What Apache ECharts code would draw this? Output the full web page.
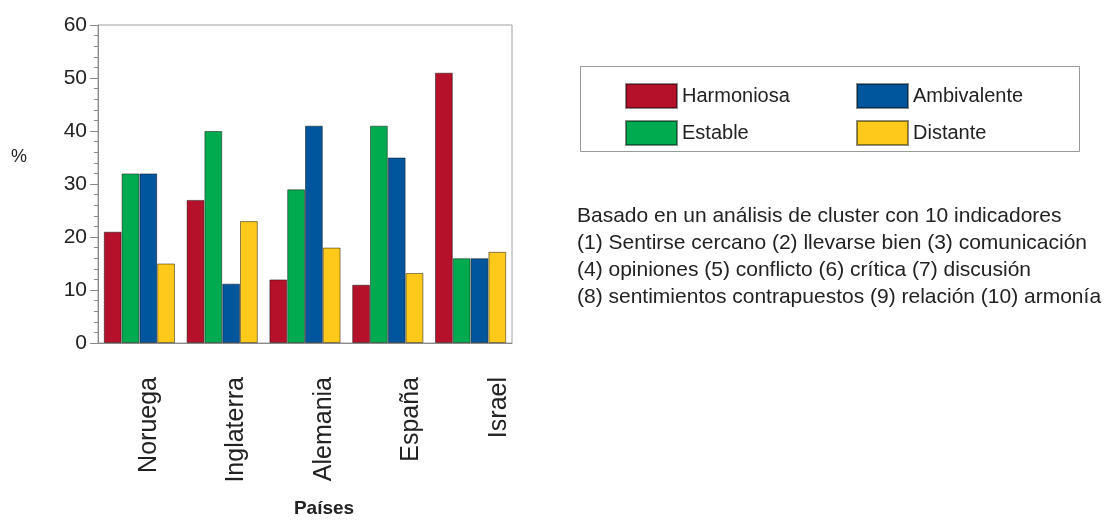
<!DOCTYPE html>
<html>
<head>
<meta charset="utf-8">
<script src="https://cdn.jsdelivr.net/npm/echarts@6/dist/echarts.min.js"></script>
<style>
  html, body { margin: 0; padding: 0; background: #fff; }
  #chart { width: 1113px; height: 520px; }
</style>
</head>
<body>
<div id="chart"></div>
<script>
// 数据
const paises = ['Noruega', 'Inglaterra', 'Alemania', 'España', 'Israel']
const harmoniosa = [21, 27, 12, 11, 51]
const estable = [32, 40, 29, 41, 16]
const ambivalente = [32, 11.2, 41, 35, 16]
const distante = [15, 23, 18, 13.2, 17.2]
const notaLineas = [
  'Basado en un análisis de cluster con 10 indicadores',
  '(1) Sentirse cercano (2) llevarse bien (3) comunicación',
  '(4) opiniones (5) conflicto (6) crítica (7) discusión',
  '(8) sentimientos contrapuestos (9) relación (10) armonía'
]

const FONT = '"Liberation Sans", Arial, sans-serif'
const gris = '#8a8a8a'

const serie = (name, data, color) => ({
  name,
  type: 'bar',
  data,
  barGap: '0%',
  barCategoryGap: '14%',
  itemStyle: { color, borderColor: 'rgba(0,0,0,0.45)', borderWidth: 1 }
})

const chart = echarts.init(document.getElementById('chart'))
chart.setOption({
  animation: false,
  textStyle: { fontFamily: FONT },
  grid: [
    {
      left: 98, right: 601, top: 25, bottom: 177,
      containLabel: false, outerBoundsMode: 'none',
      show: true, borderColor: '#a0a0a0', borderWidth: 1
    },
    // 标签在原图中略向右偏移，用第二个 grid 放置
    {
      left: 105, right: 570, top: 25, bottom: 177,
      containLabel: false, outerBoundsMode: 'none'
    }
  ],
  legend: [
    {
      data: ['Harmoniosa', 'Estable'],
      orient: 'vertical', left: 620, top: 78,
      itemWidth: 51, itemHeight: 24, itemGap: 11, itemTextGap: 11,
      icon: 'rect',
      textStyle: { fontSize: 20, color: '#222', fontFamily: FONT }
    },
    {
      data: ['Ambivalente', 'Distante'],
      orient: 'vertical', left: 851, top: 78,
      itemWidth: 51, itemHeight: 24, itemGap: 11, itemTextGap: 9,
      icon: 'rect',
      textStyle: { fontSize: 20, color: '#222', fontFamily: FONT }
    }
  ],
  xAxis: [
    {
      type: 'category',
      gridIndex: 0,
      data: paises,
      axisLine: { lineStyle: { color: gris } },
      axisTick: { length: 10, lineStyle: { color: gris } },
      axisLabel: { show: false }
    },
    {
      type: 'category',
      gridIndex: 1,
      data: paises,
      name: 'Países',
      nameLocation: 'middle',
      nameGap: 156,
      nameTextStyle: { fontSize: 19, fontWeight: 'bold', color: '#222', fontFamily: FONT },
      axisLine: { show: false },
      axisTick: { show: false },
      axisLabel: { rotate: 90, margin: 34, fontSize: 25, color: '#222', fontFamily: FONT }
    }
  ],
  yAxis: [
    {
      type: 'value',
      gridIndex: 0,
      min: 0, max: 60, interval: 10,
      axisLine: { show: true, lineStyle: { color: gris } },
      axisTick: { show: true, length: 8, lineStyle: { color: gris } },
      minorTick: { show: true, splitNumber: 5, length: 4, lineStyle: { color: gris } },
      splitLine: { show: false },
      axisLabel: { fontSize: 21, color: '#222', margin: 11, fontFamily: FONT }
    },
    {
      type: 'value',
      gridIndex: 1,
      min: 0, max: 60,
      show: false
    }
  ],
  graphic: [
    {
      type: 'text', left: 11, top: 148,
      style: { text: '%', fontSize: 18, fill: '#222', fontFamily: FONT }
    },
    {
      type: 'rect', left: 578, top: 64,
      shape: { width: 499, height: 85 },
      style: { fill: 'none', stroke: '#999', lineWidth: 1 }
    },
    {
      type: 'text', left: 577, top: 203,
      style: { text: notaLineas.join('\n'), fontSize: 21, lineHeight: 27, fill: '#222', fontFamily: FONT }
    }
  ],
  series: [
    serie('Harmoniosa', harmoniosa, '#b5112b'),
    serie('Estable', estable, '#00ab4f'),
    serie('Ambivalente', ambivalente, '#00569c'),
    serie('Distante', distante, '#fec91b')
  ]
})
</script>
</body>
</html>
